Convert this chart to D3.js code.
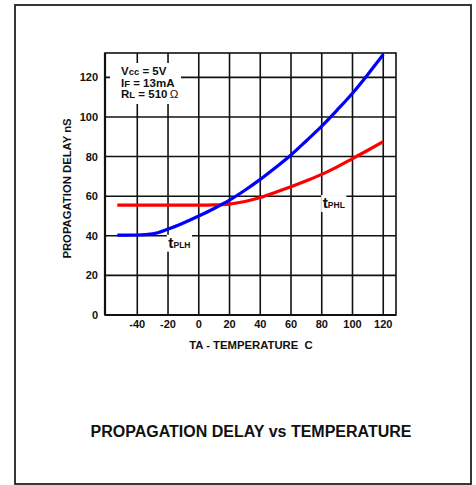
<!DOCTYPE html>
<meta charset="utf-8">
<style>
  body { margin: 0; background: #fff; }
  svg text { font-family: Arial, "Liberation Sans", sans-serif; font-weight: bold; fill: #111; }
  .grid line { stroke: #111; stroke-width: 1.6; }
  .curve { fill: none; stroke-width: 3.2; }
</style>
<body>
<svg width="476" height="485"></svg>
<script src="https://d3js.org/d3.v7.min.js"></script>
<script>
// temperature (C) sample points
var temps = [-53, -40, -30, -20, -10, 0, 10, 20, 30, 40, 50, 60, 70, 80, 90, 100, 110, 120];
var tPLH  = [40.3, 40.4, 41.0, 43.4, 46.5, 50, 53.8, 58, 63, 68.5, 74.5, 80.8, 88, 95.4, 103.5, 112, 121.5, 131.5];
var tPHL  = [55.5, 55.5, 55.5, 55.5, 55.5, 55.5, 55.6, 56, 57.3, 59.3, 62, 64.8, 67.8, 71, 74.8, 79, 83.2, 87.5];
var xTicks = [-40, -20, 0, 20, 40, 60, 80, 100, 120];
var yTicks = [0, 20, 40, 60, 80, 100, 120];

var svg = d3.select("svg");

// outer frame
svg.append("rect")
    .attr("x", 15).attr("y", 5)
    .attr("width", 456).attr("height", 479)
    .attr("fill", "none").attr("stroke", "#222").attr("stroke-width", 1.8);

var margin = {top: 53, right: 80, bottom: 170, left: 105},
    width = 476 - margin.left - margin.right,
    height = 485 - margin.top - margin.bottom;

var x = d3.scaleLinear().domain([-61, 128.3]).range([0, width]);
var y = d3.scaleLinear().domain([0, 132.3]).range([height, 0]);

var g = svg.append("g").attr("transform", "translate(" + margin.left + "," + margin.top + ")");

var grid = g.append("g").attr("class", "grid");
grid.selectAll(".vx").data(xTicks).enter().append("line")
    .attr("x1", function(d) { return x(d); }).attr("x2", function(d) { return x(d); })
    .attr("y1", 0).attr("y2", height);
grid.selectAll(".hy").data(yTicks.slice(1)).enter().append("line")
    .attr("x1", 0).attr("x2", width)
    .attr("y1", function(d) { return y(d); }).attr("y2", function(d) { return y(d); });

// plot border
g.append("rect")
    .attr("width", width).attr("height", height)
    .attr("fill", "none").attr("stroke", "#111").attr("stroke-width", 1.6);
// axis lines
g.append("line").attr("x1", 0).attr("x2", 0).attr("y1", 0).attr("y2", height)
    .attr("stroke", "#111").attr("stroke-width", 2.2);
g.append("line").attr("x1", 0).attr("x2", width).attr("y1", height).attr("y2", height)
    .attr("stroke", "#111").attr("stroke-width", 2.2);

// conditions box
g.append("rect")
    .attr("x", 5).attr("y", 10).attr("width", 71).attr("height", 41)
    .attr("fill", "#fff");
var cond = g.append("text").style("font-size", "11.5px");
var l1 = cond.append("tspan").attr("x", 16).attr("y", 22);
l1.append("tspan").text("V");
l1.append("tspan").style("font-size", "9.5px").text("cc");
l1.append("tspan").text(" = 5V");
var l2 = cond.append("tspan").attr("x", 16).attr("y", 33.5);
l2.append("tspan").text("I");
l2.append("tspan").style("font-size", "9.5px").text("F");
l2.append("tspan").text(" = 13mA");
var l3 = cond.append("tspan").attr("x", 16).attr("y", 45);
l3.append("tspan").text("R");
l3.append("tspan").style("font-size", "9.5px").text("L");
l3.append("tspan").text(" = 510\u2009");
l3.append("tspan").style("font-weight", "normal").text("\u03A9");

// curve labels (white patch behind, hides grid)
function curveLabel(tx, ty, sub) {
  var lg = g.append("g");
  var t = lg.append("text").attr("x", x(tx)).attr("y", y(ty));
  t.append("tspan").style("font-size", "15.5px").text("t");
  t.append("tspan").style("font-size", "8.5px").text(sub);
  var b = t.node().getBBox();
  lg.insert("rect", "text")
    .attr("x", b.x - 1.5).attr("y", b.y + 1)
    .attr("width", b.width + 3).attr("height", b.height)
    .attr("fill", "#fff");
}
curveLabel(80.6, 54, "PHL");
curveLabel(-19.8, 34, "PLH");

// curves
var line = d3.line()
    .x(function(d) { return x(d[0]); })
    .y(function(d) { return y(d[1]); })
    .curve(d3.curveMonotoneX);

g.append("path").attr("class", "curve").attr("stroke", "#f00")
    .attr("d", line(d3.zip(temps, tPHL)));
g.append("path").attr("class", "curve").attr("stroke", "#00f")
    .attr("d", line(d3.zip(temps, tPLH)));

// tick labels
g.selectAll(".xl").data(xTicks).enter().append("text")
    .attr("x", function(d) { return x(d); }).attr("y", height + 13)
    .attr("text-anchor", "middle").style("font-size", "11px")
    .text(function(d) { return d; });
g.selectAll(".yl").data(yTicks).enter().append("text")
    .attr("x", -7).attr("y", function(d) { return y(d) + 4; })
    .attr("text-anchor", "end").style("font-size", "11px")
    .text(function(d) { return d; });

// axis titles
g.append("text").attr("x", 251 - margin.left).attr("y", height + 33.5)
    .attr("text-anchor", "middle").style("font-size", "11.3px")
    .style("white-space", "pre")
    .text("TA - TEMPERATURE  C");
g.append("text").attr("transform", "translate(-34," + (188.5 - margin.top) + ") rotate(-90)")
    .attr("text-anchor", "middle").style("font-size", "11.3px")
    .text("PROPAGATION DELAY nS");

// chart title
svg.append("text").attr("x", 251).attr("y", 437)
    .attr("text-anchor", "middle").style("font-size", "16px")
    .text("PROPAGATION DELAY vs TEMPERATURE");
</script>
</body>
